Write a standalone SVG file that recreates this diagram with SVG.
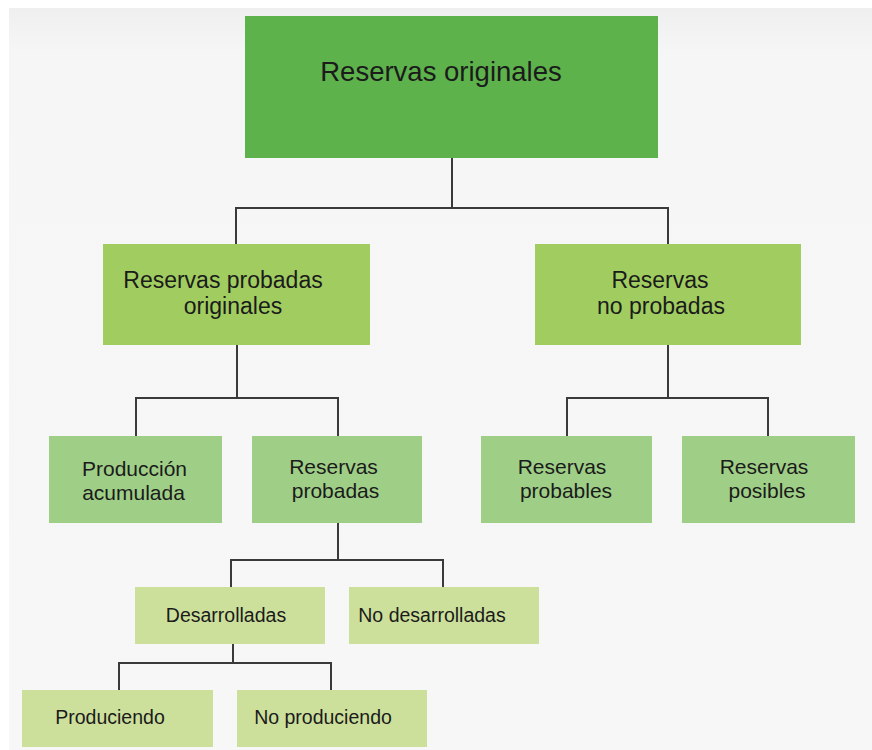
<svg xmlns="http://www.w3.org/2000/svg" width="872" height="750" viewBox="0 0 872 750">
<defs>
<linearGradient id="bg" x1="0" y1="0" x2="0" y2="1" gradientUnits="objectBoundingBox">
<stop offset="0" stop-color="#efefef"/>
<stop offset="0.06" stop-color="#f6f6f6"/>
<stop offset="1" stop-color="#f7f7f7"/>
</linearGradient>
</defs>
<style>
text{font-family:"Liberation Sans",Arial,sans-serif;fill:#1b1b1b;text-anchor:middle}
.l1{fill:#5db24b}
.l2{fill:#a1cd60}
.l3{fill:#9fcf87}
.l4{fill:#cde09b}
.t1{font-size:27.5px}
.t2{font-size:23px}
.t3{font-size:21px}
.t4{font-size:19.5px}
#connectors path{fill:none;stroke:#3a3a3a;stroke-width:2}
</style>
<rect x="0" y="0" width="872" height="750" fill="#ffffff"/>
<rect x="9" y="8" width="863" height="742" fill="url(#bg)"/>
<g id="connectors">
<path d="M452 158 V208 M236 244 V208 H668 V244"/>
<path d="M237 345 V398 M136 436 V398 H338 V436"/>
<path d="M668 345 V398 M567 436 V398 H768 V436"/>
<path d="M338 523 V560 M231 587 V560 H443 V587"/>
<path d="M233 644 V663 M119 690 V663 H331 V690"/>
</g>
<g id="reservas-originales">
<rect class="l1" x="245" y="16" width="413" height="142"/>
<text class="t1" x="441" y="81">Reservas originales</text>
</g>
<g id="reservas-probadas-originales">
<rect class="l2" x="103" y="244" width="267" height="101"/>
<text class="t2" x="223" y="288">Reservas probadas</text>
<text class="t2" x="233" y="314">originales</text>
</g>
<g id="reservas-no-probadas">
<rect class="l2" x="535" y="244" width="266" height="101"/>
<text class="t2" x="660" y="288">Reservas</text>
<text class="t2" x="661" y="314">no probadas</text>
</g>
<g id="produccion-acumulada">
<rect class="l3" x="49" y="436" width="173" height="87"/>
<text class="t3" x="134.5" y="476">Producción</text>
<text class="t3" x="133.5" y="500">acumulada</text>
</g>
<g id="reservas-probadas">
<rect class="l3" x="252" y="436" width="170" height="87"/>
<text class="t3" x="333.5" y="474">Reservas</text>
<text class="t3" x="335.5" y="498">probadas</text>
</g>
<g id="reservas-probables">
<rect class="l3" x="481" y="436" width="171" height="87"/>
<text class="t3" x="562" y="474">Reservas</text>
<text class="t3" x="566" y="498">probables</text>
</g>
<g id="reservas-posibles">
<rect class="l3" x="682" y="436" width="173" height="87"/>
<text class="t3" x="764" y="474">Reservas</text>
<text class="t3" x="767" y="498">posibles</text>
</g>
<g id="desarrolladas">
<rect class="l4" x="135" y="587" width="190" height="57"/>
<text class="t4" x="226" y="622">Desarrolladas</text>
</g>
<g id="no-desarrolladas">
<rect class="l4" x="349" y="587" width="190" height="57"/>
<text class="t4" x="432" y="622">No desarrolladas</text>
</g>
<g id="produciendo">
<rect class="l4" x="22" y="690" width="191" height="57"/>
<text class="t4" x="110" y="724">Produciendo</text>
</g>
<g id="no-produciendo">
<rect class="l4" x="237" y="690" width="190" height="57"/>
<text class="t4" x="323" y="724">No produciendo</text>
</g>
</svg>
